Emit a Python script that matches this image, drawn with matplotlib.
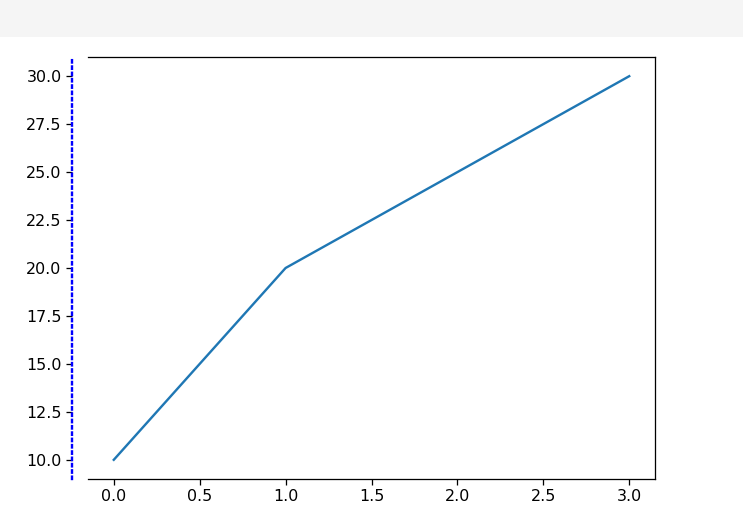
import matplotlib
matplotlib.use("Agg")
import matplotlib.pyplot as plt
from matplotlib.patches import Rectangle

x = [0, 1, 2, 3]
y = [10, 20, 25, 30]

s = 1.143  # screenshot was taken at ~114 dpi
plt.rcParams["font.size"] = 10 * s

fig = plt.figure(figsize=(7.43, 5.31), dpi=100)

# grey strip of the notebook cell above the output
fig.patches.append(Rectangle((0, 1 - 37 / 531), 1, 37 / 531, transform=fig.transFigure,
                             facecolor="#f5f5f5", edgecolor="none", zorder=0))

ax = fig.add_axes([88 / 743, 52 / 531, 567 / 743, 422 / 531])
ax.plot(x, y, linewidth=1.5 * s)

for sp in ax.spines.values():
    sp.set_linewidth(0.8 * s)

ax.spines["left"].set_position(("outward", 16 * 72 / 100))
ax.spines["left"].set_linestyle(":")
ax.spines["left"].set_color("blue")
ax.spines["left"].set_linewidth(1.5 * s)

ax.tick_params(length=3.5 * s, width=0.8 * s)

fig.savefig("out.png", dpi=100)
